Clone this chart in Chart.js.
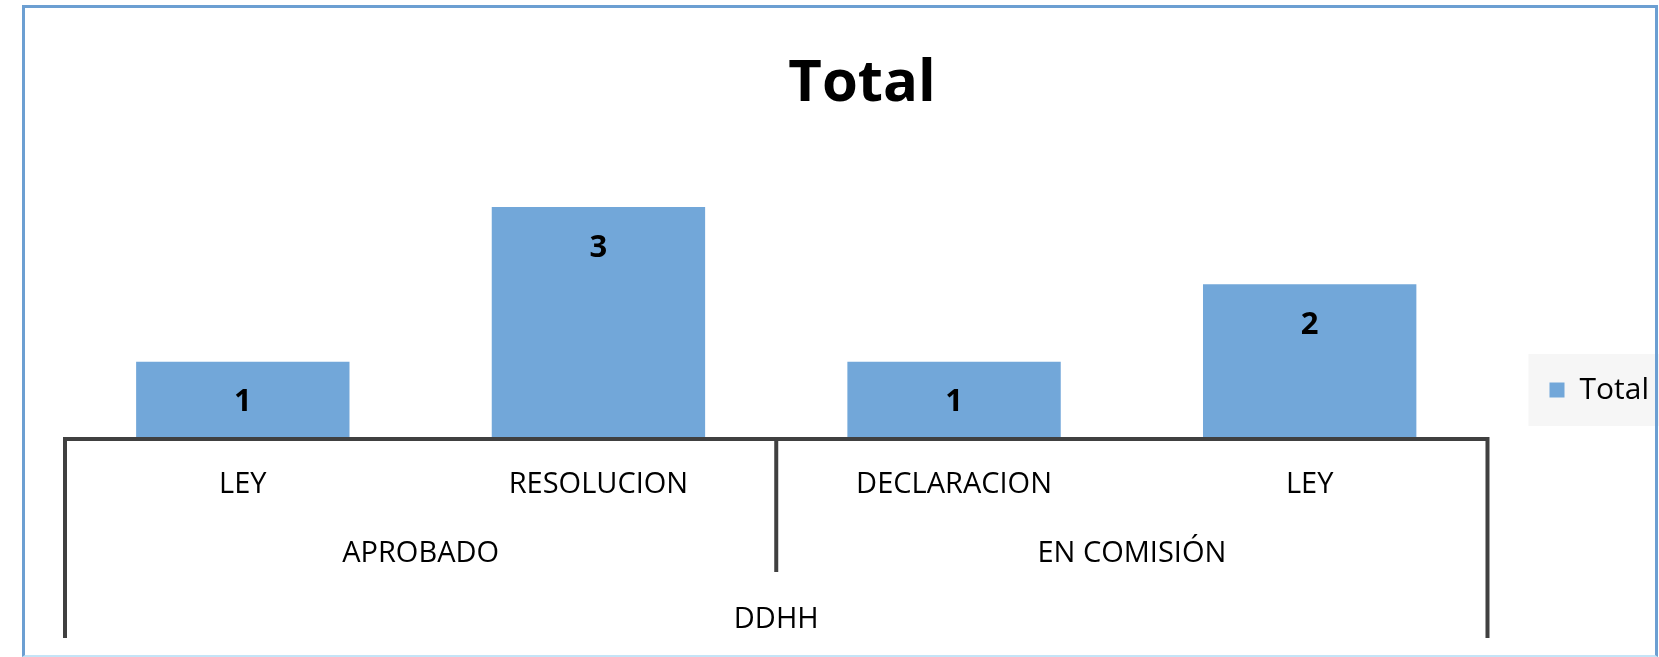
<!DOCTYPE html>
<html>
<head>
<meta charset="utf-8">
<script src="https://cdn.jsdelivr.net/npm/chart.js@4.4.1/dist/chart.umd.min.js"></script>
<style>
  html, body { margin: 0; padding: 0; background: #fff; }
  .container { position: relative; width: 1659px; height: 657px; }
  .frame { position: absolute; left: 22px; top: 5px; width: 1636px; height: 652px; box-sizing: border-box;
           border: 3px solid #6c9fd2; border-bottom: 2px solid #c4e4f7; pointer-events: none; }
</style>
</head>
<body>
<div class="container">
  <canvas id="total-chart" width="1659" height="657"></canvas>
  <div class="frame"></div>
</div>
<script>
// chart data
const categories = ["LEY", "RESOLUCION", "DECLARACION", "LEY"];
const totals = [1, 3, 1, 2];
const groupLabels = ["APROBADO", "EN COMISIÓN"];
const groupRanges = [[0, 1], [2, 3]];
const topLabel = "DDHH";
const seriesName = "Total";

const barColor = "#72a7d9";
const lineColor = "#404040";
let chartEl = document.getElementById("total-chart");

Chart.defaults.font.family = "'Open Sans', sans-serif";
Chart.defaults.color = "#000";

//draws the grouped axis (second and third level), value labels and legend background
const groupAxis = {
    id: "groupAxis",
    beforeDraw(chart){
        const box = chart.legend.legendHitBoxes[0];
        if(!box) return;
        const ctx = chart.ctx;
        ctx.save();
        ctx.fillStyle = "#f6f6f6";
        ctx.fillRect(box.left - 21, box.top - 21, chart.width - box.left + 21, box.height + 42);
        ctx.restore();
    },
    afterDatasetsDraw(chart){
        const ctx = chart.ctx;
        const meta = chart.getDatasetMeta(0);
        ctx.save();
        ctx.font = "bold 31px 'Open Sans'";
        ctx.fillStyle = "#000";
        ctx.textAlign = "center";
        ctx.textBaseline = "middle";
        meta.data.forEach((bar, i) => {
            ctx.fillText(String(chart.data.datasets[0].data[i]), bar.x, bar.y + 41);
        });
        ctx.restore();
    },
    afterDraw(chart){
        const ctx = chart.ctx;
        const xScale = chart.scales.x;
        const base = chart.chartArea.bottom;
        ctx.save();
        ctx.strokeStyle = lineColor;
        ctx.lineWidth = 4;
        ctx.beginPath();
        // outer edges
        [-0.5, categories.length - 0.5].forEach((v) => {
            const x = xScale.getPixelForValue(v);
            ctx.moveTo(x, base - 2);
            ctx.lineTo(x, base + 199);
        });
        // separators between groups
        groupRanges.slice(0, -1).forEach((r) => {
            const x = xScale.getPixelForValue(r[1] + 0.5);
            ctx.moveTo(x, base);
            ctx.lineTo(x, base + 133);
        });
        ctx.stroke();

        ctx.font = "29px 'Open Sans'";
        ctx.fillStyle = "#000";
        ctx.textAlign = "center";
        ctx.textBaseline = "alphabetic";
        groupLabels.forEach((label, i) => {
            const mid = (groupRanges[i][0] + groupRanges[i][1]) / 2;
            ctx.fillText(label, xScale.getPixelForValue(mid), base + 123);
        });
        ctx.fillText(topLabel, xScale.getPixelForValue((categories.length - 1) / 2), base + 189);
        ctx.restore();
    }
};

new Chart(chartEl, {
    type: "bar",
    data: {
        labels: categories,
        datasets: [{
            label: seriesName,
            data: totals,
            backgroundColor: barColor,
            borderWidth: 0,
            barPercentage: 1,
            categoryPercentage: 0.6
        }]
    },
    options: {
        responsive: false,
        animation: false,
        layout: {padding: {left: 65, right: 0, top: 0, bottom: 0}},
        plugins: {
            title: {
                display: true,
                text: "Total",
                color: "#000",
                font: {size: 58, weight: "bold"},
                padding: {top: 50, bottom: 10}
            },
            legend: {
                position: "right",
                align: "end",
                fullSize: false,
                labels: {boxWidth: 15, boxHeight: 15, padding: 34, color: "#000", font: {size: 30}}
            },
            tooltip: {enabled: false}
        },
        scales: {
            x: {
                grid: {display: false},
                border: {color: lineColor, width: 4, z: 1},
                ticks: {color: "#000", font: {size: 29}, padding: 20, maxRotation: 0, autoSkip: false},
                afterFit: (s) => { s.height = 218; }
            },
            y: {
                position: "right",
                min: 0,
                max: 4,
                grid: {display: false},
                border: {display: false},
                ticks: {display: false},
                afterFit: (s) => { s.width = 28; }
            }
        }
    },
    plugins: [groupAxis]
});
</script>
</body>
</html>
